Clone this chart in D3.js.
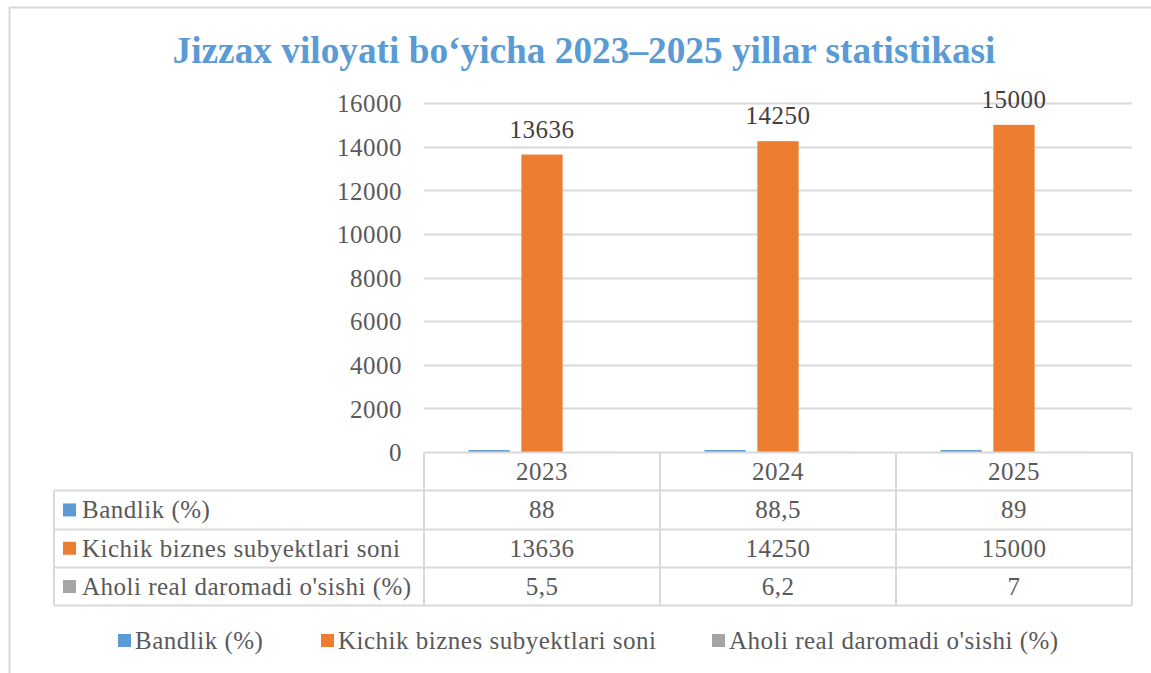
<!DOCTYPE html>
<html>
<head>
<meta charset="utf-8">
<script src="https://cdn.jsdelivr.net/npm/d3@7"></script>
<style>
  html, body { margin: 0; padding: 0; background: #fff; }
  svg { display: block; }
</style>
</head>
<body>
<div id="chart"></div>
<script>
// data
const years = ["2023", "2024", "2025"];
const seriesNames = ["Bandlik (%)", "Kichik biznes subyektlari soni", "Aholi real daromadi o'sishi (%)"];
const bandlik = [88, 88.5, 89];
const kichikBiznes = [13636, 14250, 15000];
const aholiDaromad = [5.5, 6.2, 7];
const tableLabels = [["88", "88,5", "89"], ["13636", "14250", "15000"], ["5,5", "6,2", "7"]];
const yTicks = [0, 2000, 4000, 6000, 8000, 10000, 12000, 14000, 16000];
const titleText = "Jizzax viloyati bo\u2018yicha 2023\u20132025 yillar statistikasi";

const seriesValues = [bandlik, kichikBiznes, aholiDaromad];
const colors = ["#5B9BD5", "#ED7D31", "#A5A5A5"];

const width = 1151, height = 673;
const plot = { left: 424, right: 1132, top: 103, bottom: 452 };
const rowH = 38.3;
const tableLeft = 54;
const gridColor = "#d9d9d9";
const textColor = "#595959";
const serif = "\"Liberation Serif\"";
const fs = "25px";

const svg = d3.select("#chart").append("svg")
  .attr("width", width)
  .attr("height", height);

// helper so every label gets the serif face inline
function label(sel) {
  return sel.style("font-family", serif)
    .style("font-size", fs)
    .style("letter-spacing", "0.5px")
    .attr("fill", textColor);
}

// chart frame (left + top edges visible)
svg.append("line").attr("x1", 9.5).attr("x2", 9.5).attr("y1", 7).attr("y2", height)
  .attr("stroke", gridColor).attr("stroke-width", 2);
svg.append("line").attr("x1", 9).attr("x2", width).attr("y1", 7.5).attr("y2", 7.5)
  .attr("stroke", gridColor).attr("stroke-width", 2);

// title
svg.append("text")
  .attr("x", 584)
  .attr("y", 63)
  .attr("text-anchor", "middle")
  .style("font-family", serif)
  .style("font-size", "37.3px")
  .style("font-weight", 700)
  .attr("fill", "#5B9BD5")
  .text(titleText);

// scales
const x0 = d3.scaleBand().domain(years).range([plot.left, plot.right]);
const x1 = d3.scaleBand().domain(seriesNames)
  .range([44.5, x0.bandwidth() - 44.5])
  .paddingInner(0.22);
const y = d3.scaleLinear().domain([0, 16000]).range([plot.bottom, plot.top]);

// gridlines
svg.append("g")
  .selectAll("line")
  .data(yTicks.filter(d => d > 0))
  .join("line")
    .attr("x1", plot.left)
    .attr("x2", plot.right)
    .attr("y1", d => Math.round(y(d)) + 0.5)
    .attr("y2", d => Math.round(y(d)) + 0.5)
    .attr("stroke", gridColor)
    .attr("stroke-width", 2);

// y axis labels
const yAxis = d3.axisLeft(y).tickValues(yTicks).tickSize(0).tickPadding(0).tickFormat(d3.format("d"));
const yg = svg.append("g").attr("transform", `translate(402,0)`).call(yAxis);
yg.select(".domain").remove();
label(yg.selectAll("text")).attr("dy", "0.35em");

// bars
const groups = svg.append("g").selectAll("g")
  .data(years)
  .join("g")
    .attr("transform", d => `translate(${x0(d)},0)`);

groups.selectAll("rect")
  .data((d, i) => seriesNames.map((s, j) => ({ key: s, value: seriesValues[j][i], idx: j })))
  .join("rect")
    .attr("x", d => x1(d.key))
    .attr("y", d => y(d.value))
    .attr("width", x1.bandwidth())
    .attr("height", d => y(0) - y(d.value))
    .attr("fill", d => colors[d.idx]);

// data labels on the orange series
label(groups.append("text"))
  .attr("x", x1(seriesNames[1]) + x1.bandwidth() / 2)
  .attr("y", (d, i) => y(kichikBiznes[i]) - 17)
  .attr("text-anchor", "middle")
  .attr("fill", "#404040")
  .text((d, i) => kichikBiznes[i]);

// data table
const table = svg.append("g");
const tableBottom = plot.bottom + rowH * 4;
[plot.bottom, plot.bottom + rowH, plot.bottom + rowH * 2, plot.bottom + rowH * 3, tableBottom].forEach((yy, i) => {
  table.append("line")
    .attr("x1", i === 0 ? plot.left : tableLeft)
    .attr("x2", plot.right)
    .attr("y1", Math.round(yy) + 0.5)
    .attr("y2", Math.round(yy) + 0.5)
    .attr("stroke", gridColor)
    .attr("stroke-width", 2);
});
table.append("line")
  .attr("x1", tableLeft).attr("x2", tableLeft)
  .attr("y1", plot.bottom + rowH).attr("y2", tableBottom)
  .attr("stroke", gridColor).attr("stroke-width", 2);
[plot.left, ...years.map(d => x0(d) + x0.bandwidth())].forEach(xx => {
  table.append("line")
    .attr("x1", xx).attr("x2", xx)
    .attr("y1", plot.bottom).attr("y2", tableBottom)
    .attr("stroke", gridColor).attr("stroke-width", 2);
});

// year header
label(table.selectAll(".yr")
  .data(years)
  .join("text"))
    .attr("class", "yr")
    .attr("x", d => x0(d) + x0.bandwidth() / 2)
    .attr("y", plot.bottom + rowH / 2)
    .attr("dy", "0.35em")
    .attr("text-anchor", "middle")
    .text(d => d);

// rows
seriesNames.forEach((s, j) => {
  const cy = plot.bottom + rowH * (j + 1) + rowH / 2;
  table.append("rect")
    .attr("x", 63).attr("y", cy - 6)
    .attr("width", 13).attr("height", 13)
    .attr("fill", colors[j]);
  label(table.append("text"))
    .attr("x", 82).attr("y", cy).attr("dy", "0.35em")
    .text(s);
  label(table.selectAll(".v" + j)
    .data(years)
    .join("text"))
      .attr("x", d => x0(d) + x0.bandwidth() / 2)
      .attr("y", cy).attr("dy", "0.35em")
      .attr("text-anchor", "middle")
      .text((d, i) => tableLabels[j][i]);
});

// legend
const legendX = [118, 321, 712];
const legend = svg.append("g");
seriesNames.forEach((s, j) => {
  const g = legend.append("g").attr("transform", `translate(${legendX[j]},640)`);
  g.append("rect").attr("x", 0).attr("y", -6).attr("width", 13).attr("height", 13).attr("fill", colors[j]);
  label(g.append("text")).attr("x", 17).attr("y", 0).attr("dy", "0.35em").text(s);
});
</script>
</body>
</html>
